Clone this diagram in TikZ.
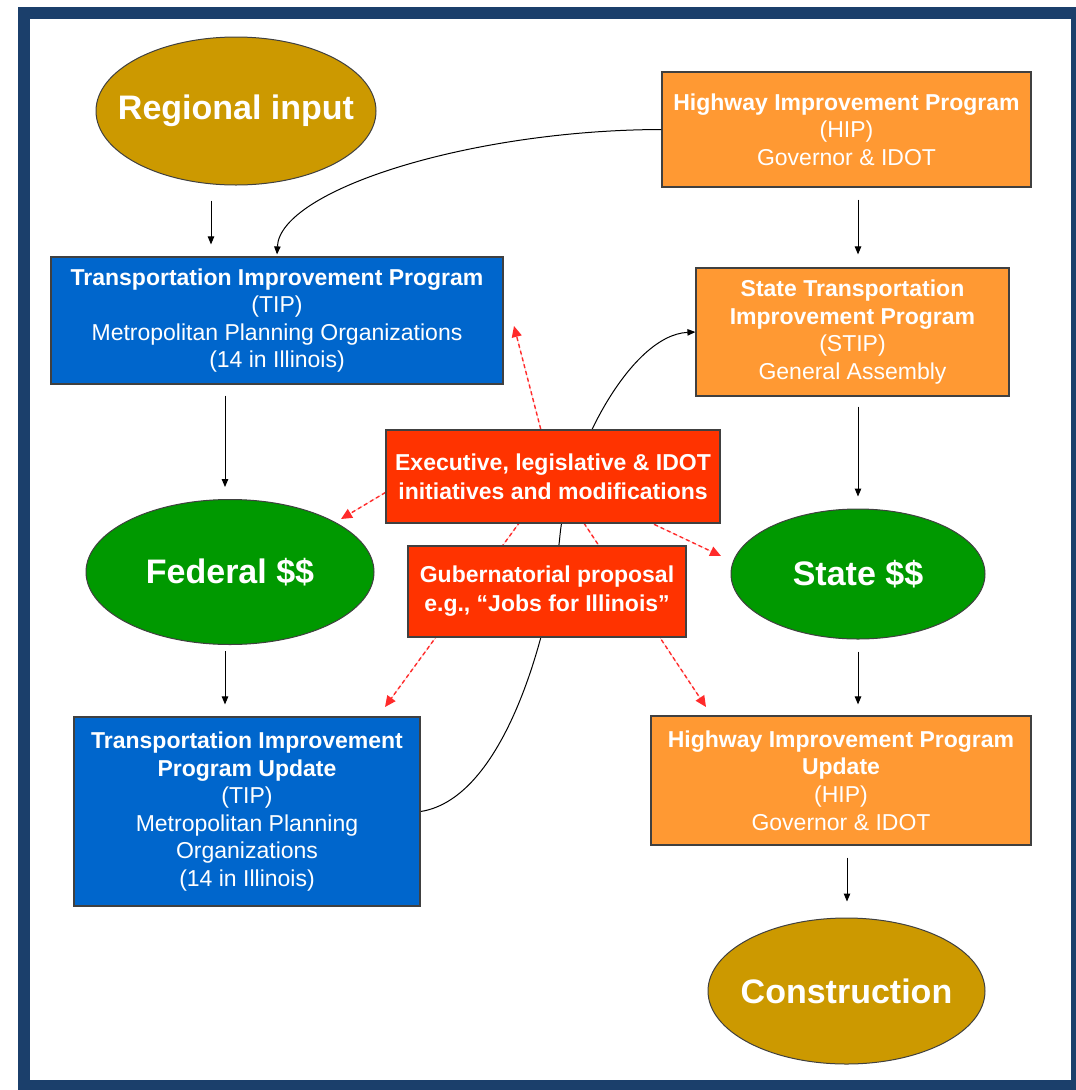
\documentclass[tikz,border=0pt]{standalone}
\usepackage{fontspec}
\setmainfont{Liberation Sans}
\usetikzlibrary{shapes.geometric,arrows.meta,calc}
\pgfdeclarelayer{bg}
\pgfdeclarelayer{back}
\pgfsetlayers{bg,back,main}
\definecolor{framec}{HTML}{1B3F6B}
\definecolor{goldc}{HTML}{CC9900}
\definecolor{bluec}{HTML}{0066CC}
\definecolor{orangec}{HTML}{FF9933}
\definecolor{redc}{HTML}{FF3300}
\definecolor{greenc}{HTML}{009900}
\definecolor{dashc}{HTML}{FF2A2A}
\begin{document}
\begin{tikzpicture}[x=1pt,y=-1pt,
  box/.style={rectangle, draw=black!75, line width=1.2pt, text=white, align=center,
    inner sep=0pt, font=\fontsize{23}{27.6}\selectfont},
  bluebox/.style={box, fill=bluec},
  orangebox/.style={box, fill=orangec},
  redbox/.style={box, fill=redc, font=\fontsize{23}{29}\selectfont\bfseries},
  ell/.style={ellipse, draw=black!75, line width=1pt, text=white, inner sep=0pt,
    font=\fontsize{34}{40}\selectfont\bfseries},
  goldell/.style={ell, fill=goldc},
  greenell/.style={ell, fill=greenc},
  arr/.style={-{Triangle[length=8pt,width=6.5pt]}, line width=1pt, black},
  rdash/.style={-{Triangle[length=11pt,width=10pt]}, draw=dashc, fill=dashc,
    line width=1.4pt, dash pattern=on 4pt off 3pt}
]
\useasboundingbox (0,0) rectangle (1076,1090);
\begin{pgfonlayer}{bg}
  \fill[white] (0,0) rectangle (1076,1090);
  \draw[framec, line width=12pt] (24,13) rectangle (1077,1086);
\end{pgfonlayer}

% ellipses
\node[goldell, minimum width=280pt, minimum height=148pt] (reg) at (236,111) {\makebox[0pt]{\raisebox{-3pt}{Regional input}}};
\node[greenell, minimum width=288pt, minimum height=145pt] (fed) at (230,572) {\makebox[0pt]{Federal \$\$}};
\node[greenell, minimum width=254pt, minimum height=130pt] (state) at (858,574) {\makebox[0pt]{State \$\$}};
\node[goldell, minimum width=277pt, minimum height=146pt] (cons) at (846.5,991) {\makebox[0pt]{Construction}};

% boxes
\node[orangebox, minimum width=369pt, minimum height=115pt] (hip) at (846.5,129.5)
  {\textbf{Highway Improvement Program}\\(HIP)\\Governor \& IDOT};
\node[orangebox, minimum width=313pt, minimum height=128pt] (stip) at (852.5,332)
  {\textbf{State Transportation}\\\textbf{Improvement Program}\\(STIP)\\General Assembly};
\node[bluebox, minimum width=452pt, minimum height=127pt] (tip) at (277,320.5)
  {\textbf{Transportation Improvement Program}\\(TIP)\\Metropolitan Planning Organizations\\(14 in Illinois)};
\node[bluebox, minimum width=346pt, minimum height=189pt] (tipu) at (247,811.5)
  {\textbf{Transportation Improvement}\\\textbf{Program Update}\\(TIP)\\Metropolitan Planning\\Organizations\\(14 in Illinois)};
\node[orangebox, minimum width=380pt, minimum height=129pt] (hipu) at (841,780.5)
  {\textbf{Highway Improvement Program}\\\textbf{Update}\\(HIP)\\Governor \& IDOT};

% red boxes
\node[redbox, minimum width=334pt, minimum height=93pt] (exec) at (553,476.5)
  {Executive, legislative \& IDOT\\initiatives and modifications};
\node[redbox, minimum width=278pt, minimum height=91pt] (gub) at (547,591.5)
  {Gubernatorial proposal\\e.g., “Jobs for Illinois”};

% black straight arrows
\draw[arr] ($(reg.south)+(-25,15)$) -- ($(tip.north)+(-66,-12)$);
\draw[arr] ($(hip.south)+(11.5,12)$) -- ($(stip.north)+(5.5,-13)$);
\draw[arr] ($(tip.south)+(-52,11)$) -- ($(fed.north)+(-5,-12)$);
\draw[arr] ($(stip.south)+(5.5,10)$) -- ($(state.north)+(0,-12)$);
\draw[arr] ($(fed.south)+(-5,6)$) -- ($(tipu.north)+(-22,-12)$);
\draw[arr] ($(state.south)+(0,12)$) -- ($(hipu.north)+(17,-11)$);
\draw[arr] ($(hipu.south)+(6,12)$) -- ($(cons.north)+(0.5,-16)$);

% curved arrows
\draw[arr] (hip.west) .. controls (470,130) and (280,190) .. ($(tip.north)+(0,-2)$);
\begin{pgfonlayer}{back}
  \draw[arr] (tipu.east) .. controls (508,798) and (552,620) .. (560,535)
    .. controls (568,455) and (630,335) .. (stip.west);
  % red dashed arrows
  \coordinate (dTIP) at (514,326);
  \coordinate (dSTATE) at (721,556);
  \coordinate (dTIPU) at (385,707);
  \coordinate (dHIPU) at (706,707);
  \coordinate (dFED) at (341,519);
  \draw[rdash] (exec.center) -- (dTIP);
  \draw[rdash] (exec.center) -- (dSTATE);
  \draw[rdash] (exec.center) -- (dTIPU);
  \draw[rdash] (exec.center) -- (dHIPU);
  \draw[rdash] ($(exec.west)+(0,16)$) -- (dFED);
\end{pgfonlayer}
\end{tikzpicture}
\end{document}
